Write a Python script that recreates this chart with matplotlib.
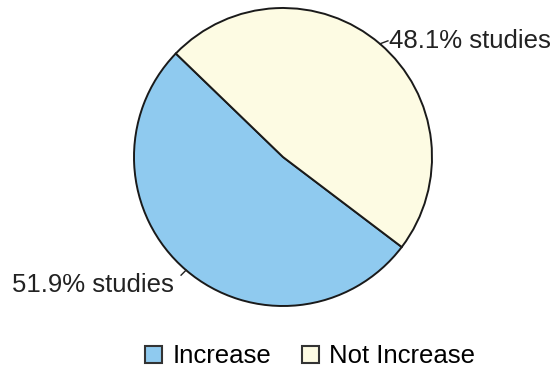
import numpy as np
import matplotlib
matplotlib.use("Agg")
import matplotlib.pyplot as plt
from matplotlib.patches import Patch

categories = ["Increase", "Not Increase"]
shares = [51.9, 48.1]
slice_labels = ["51.9% studies", "48.1% studies"]
colors = ["#8fcaef", "#fdfbe3"]

plt.rcParams["font.family"] = ["Liberation Sans", "DejaVu Sans"]

fig = plt.figure(figsize=(5.54, 3.76), dpi=100)
ax = fig.add_axes([0, 0, 1, 1])

wedges, _ = ax.pie(shares, colors=colors, startangle=136, counterclock=True,
                   radius=1.0,
                   wedgeprops=dict(edgecolor="#1a1a1a", linewidth=1.4))

# pixel layout: centre (283, 157) from top-left, radius 149 px
r_px = 149.0
ax.set_xlim(-283 / r_px, (554 - 283) / r_px)
ax.set_ylim(-(376 - 157) / r_px, 157 / r_px)
ax.set_aspect("equal")
ax.axis("off")

# leader tick end and text anchor, as pixel offsets from the wedge edge
leaders = [((-5, -5), (-12, -15)), ((8, 3), (9, 3))]
for w, lab, (tick, txt) in zip(wedges, slice_labels, leaders):
    ang = np.deg2rad((w.theta1 + w.theta2) / 2)
    x, y = np.cos(ang), np.sin(ang)
    ax.plot([x, x + tick[0] / r_px], [y, y + tick[1] / r_px],
            color="#222222", lw=1.0)
    ha = "left" if x > 0 else "right"
    ax.text(x + txt[0] / r_px, y + txt[1] / r_px, lab, ha=ha, va="center",
            fontsize=18.5, color="#222222")

handles = [Patch(facecolor=c, edgecolor="#333333", linewidth=1.5) for c in colors]
fig.legend(handles, categories, loc="center", bbox_to_anchor=(0.56, 0.052),
           ncol=2, frameon=False, fontsize=18.5, handlelength=0.65,
           handleheight=0.65, handletextpad=0.4, columnspacing=1.2)

fig.savefig("out.png", dpi=100)
plt.close(fig)
